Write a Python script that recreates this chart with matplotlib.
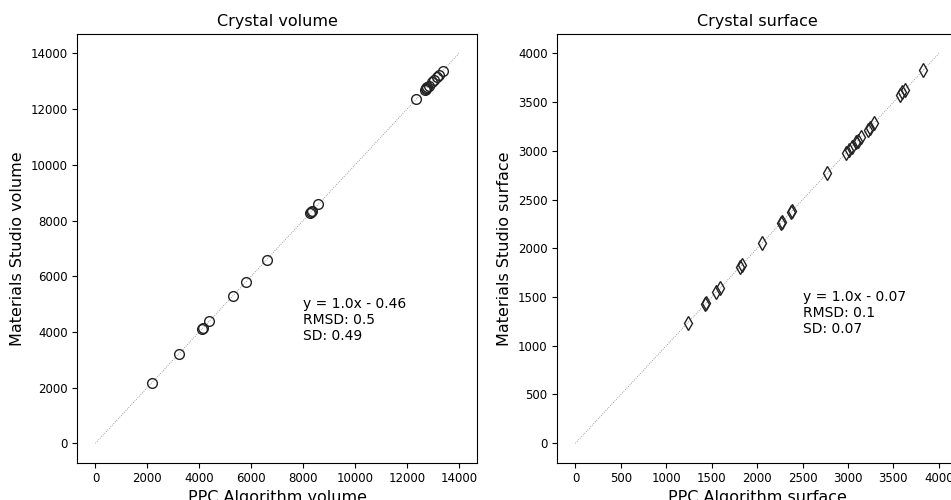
import matplotlib
matplotlib.use("Agg")
import matplotlib.pyplot as plt

# crystal volume: PPC algorithm vs Materials Studio
vol_ppc = [2160, 3210, 4110, 4140, 4390, 5300, 5780, 6590, 8260, 8300, 8350, 8590,
           12360, 12690, 12720, 12750, 12790, 12850, 12960, 13060, 13170, 13240, 13380]
vol_ms = [2159.5, 3209.5, 4109.6, 4139.4, 4389.5, 5299.6, 5779.5, 6589.4, 8259.6, 8299.5,
          8349.4, 8589.6, 12359.5, 12689.6, 12719.4, 12749.5, 12789.6, 12849.5, 12959.4,
          13059.5, 13169.6, 13239.5, 13379.5]
vol_fit = "y = 1.0x - 0.46\nRMSD: 0.5\nSD: 0.49"

# crystal surface
surf_ppc = [1235, 1430, 1440, 1550, 1595, 1810, 1830, 2055, 2260, 2270, 2370, 2385,
            2770, 2975, 3010, 3045, 3090, 3105, 3145, 3215, 3240, 3290, 3575, 3600,
            3625, 3830]
surf_ms = [1234.9, 1429.9, 1440.0, 1549.9, 1594.9, 1809.9, 1829.9, 2054.9, 2259.9,
           2269.9, 2369.9, 2384.9, 2769.9, 2974.9, 3009.9, 3044.9, 3089.9, 3104.9,
           3144.9, 3214.9, 3239.9, 3289.9, 3574.9, 3599.9, 3624.9, 3829.9]
surf_fit = "y = 1.0x - 0.07\nRMSD: 0.1\nSD: 0.07"

fig = plt.figure(figsize=(9.51, 5.0), dpi=100)
ax1 = fig.add_axes([0.0813, 0.0746, 0.4203, 0.8574])
ax2 = fig.add_axes([0.586, 0.0746, 0.4203, 0.8574])

panels = [
    (ax1, vol_ppc, vol_ms, 14000, "o", vol_fit, (8000, 3700), "volume"),
    (ax2, surf_ppc, surf_ms, 4000, "d", surf_fit, (2500, 1130), "surface"),
]
for ax, x, y, top, marker, fit, pos, name in panels:
    ax.plot([0, top], [0, top], color="gray", lw=0.6, ls=":")
    ax.plot(x, y, ls="none", marker=marker, mfc="none", mec="#222222", ms=7, mew=1)
    ax.text(pos[0], pos[1], fit, fontsize=10)
    ax.set_title(f"Crystal {name}", fontsize=11.5)
    ax.set_xlabel(f"PPC Algorithm {name}", fontsize=11.5, labelpad=3)
    ax.set_ylabel(f"Materials Studio {name}", fontsize=11.5)
    ax.tick_params(labelsize=8.5)

fig.savefig("out.png", dpi=100)
